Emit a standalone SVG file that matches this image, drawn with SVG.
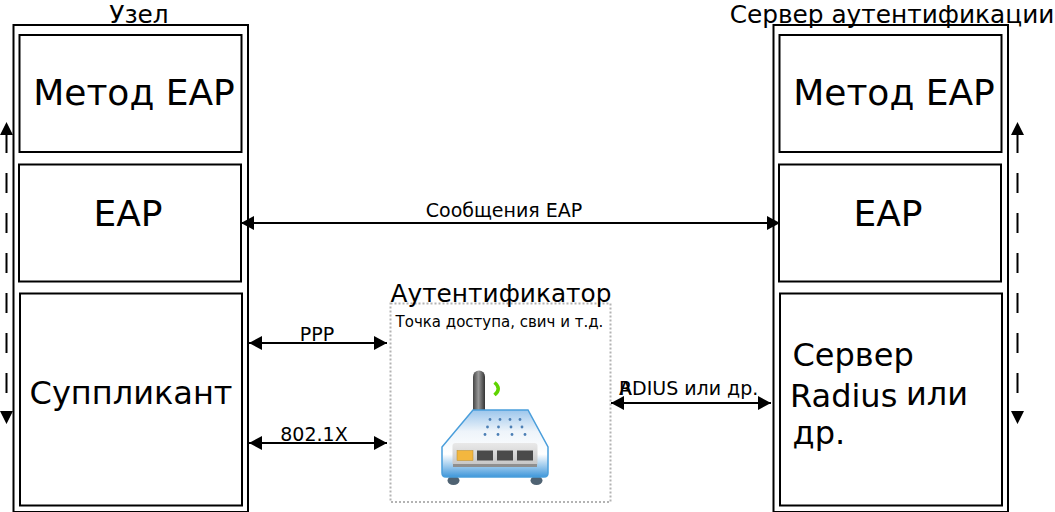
<svg xmlns="http://www.w3.org/2000/svg" width="1055" height="512" viewBox="0 0 1055 512">
<style>
text{font-family:"DejaVu Sans",sans-serif;fill:#000}
.box{fill:#fff;stroke:#000;stroke-width:2}
.big{font-size:36px}
.mid{font-size:32px}
.lab{font-size:24.800px}
.sm{font-size:19px}
.c{fill:none;stroke:#000;stroke-width:2}
.d{fill:none;stroke:#000;stroke-width:2;stroke-dasharray:20 20}
</style>
<defs>
<marker id="a" markerUnits="userSpaceOnUse" markerWidth="14" markerHeight="14" refX="13" refY="7" orient="auto-start-reverse"><path d="M0 0L13 7L0 14Z" fill="#000"/></marker>
<linearGradient id="body" x1="0" y1="0" x2="0" y2="1"><stop offset="0" stop-color="#9cc6ec"/><stop offset=".32" stop-color="#eef4fa"/><stop offset=".66" stop-color="#fff"/><stop offset=".86" stop-color="#8fc2ea"/><stop offset="1" stop-color="#3f97da"/></linearGradient>
<linearGradient id="ant" x1="0" y1="0" x2="1" y2="0"><stop offset="0" stop-color="#444"/><stop offset=".45" stop-color="#999"/><stop offset="1" stop-color="#333"/></linearGradient>
<linearGradient id="panel" x1="0" y1="0" x2="0" y2="1"><stop offset="0" stop-color="#e9e9e9"/><stop offset="1" stop-color="#c4c4c4"/></linearGradient>
</defs>
<g id="node-uzel">
<rect class="box" x="13.500" y="25" width="234.500" height="487"/>
<text class="lab" x="139" y="23" text-anchor="middle">Узел</text>
</g>
<g id="node-metod-1"><rect class="box" x="19.500" y="35" width="222" height="117"/><text class="big" x="134" y="105" text-anchor="middle">Метод EAP</text></g>
<g id="node-eap-1"><rect class="box" x="19" y="164.500" width="222" height="117"/><text class="big" x="128" y="226" text-anchor="middle">EAP</text></g>
<g id="node-supplicant"><rect class="box" x="20" y="293.500" width="222" height="212"/><text class="mid" x="131" y="404" text-anchor="middle">Суппликант</text></g>
<g id="node-server">
<rect class="box" x="773.500" y="25" width="234.500" height="487"/>
<text class="lab" x="892" y="23" text-anchor="middle">Сервер аутентификации</text>
</g>
<g id="node-metod-2"><rect class="box" x="779.500" y="35" width="222" height="117"/><text class="big" x="894" y="105" text-anchor="middle">Метод EAP</text></g>
<g id="node-eap-2"><rect class="box" x="779" y="164.500" width="222" height="117"/><text class="big" x="888" y="226" text-anchor="middle">EAP</text></g>
<g id="node-radius"><rect class="box" x="780" y="293.500" width="222" height="212"/>
<text class="mid" x="792.500" y="365.500">Сервер</text>
<text class="mid" x="790" y="407">Radius<tspan x="906" y="405">или</tspan></text>
<text class="mid" x="792.500" y="444">др.</text></g>
<g id="node-authenticator">
<rect x="390.500" y="303.500" width="220" height="198.500" fill="#fff" stroke="#b3b3b3" stroke-width="2" stroke-dasharray="2 2"/>
<text class="lab" x="501" y="302" text-anchor="middle">Аутентификатор</text>
<text x="499.500" y="327" style="font-size:15px" text-anchor="middle">Точка доступа, свич и т.д.</text>
<g id="router-icon">
<ellipse cx="453.500" cy="480.500" rx="6" ry="4.500" fill="#4f6272"/>
<ellipse cx="536.500" cy="480.500" rx="6" ry="4.500" fill="#4f6272"/>
<rect x="473" y="370.500" width="12" height="46" rx="6" fill="url(#ant)"/>
<path d="M494.500 382.500Q502 388.500 494.500 395" fill="none" stroke="#5fd400" stroke-width="3.500"/>
<path d="M473 410H528L548 447V473Q548 477 544 477H446Q442 477 442 473V447Z" fill="url(#body)" stroke="#4a9edb" stroke-width="1.500"/>
<rect x="452.500" y="443" width="85" height="23" rx="3" fill="url(#panel)"/>
<rect x="453" y="464" width="84" height="3" fill="#8f8f8f"/>
<rect x="457" y="450.500" width="16" height="10" fill="#f3b73f" stroke="#b88a2a" stroke-width=".5"/>
<rect x="477" y="450.500" width="16" height="10" fill="#4a4a4a"/>
<rect x="497" y="450.500" width="16" height="10" fill="#4a4a4a"/>
<rect x="517" y="450.500" width="16" height="10" fill="#4a4a4a"/>
<g fill="#4c7fb5"><circle cx="490" cy="419.500" r="1.400"/><circle cx="500" cy="419.500" r="1.400"/><circle cx="510" cy="419.500" r="1.400"/><circle cx="520" cy="419.500" r="1.400"/><circle cx="487.500" cy="427" r="1.400"/><circle cx="498.500" cy="427" r="1.400"/><circle cx="511" cy="427" r="1.400"/><circle cx="522" cy="427" r="1.400"/><circle cx="485" cy="434.500" r="1.400"/><circle cx="498" cy="434.500" r="1.400"/><circle cx="512" cy="434.500" r="1.400"/><circle cx="525" cy="434.500" r="1.400"/></g>
</g>
</g>
<g id="connectors">
<path class="c" d="M241 223H780" marker-start="url(#a)" marker-end="url(#a)"/>
<path class="c" d="M249 343H387" marker-start="url(#a)" marker-end="url(#a)"/>
<path class="c" d="M249 443H387" marker-start="url(#a)" marker-end="url(#a)"/>
<path class="c" d="M611 403H771" marker-start="url(#a)" marker-end="url(#a)"/>
<path class="d" d="M6.500 133V393"/><path d="M6.500 122L13 135H0ZM6.500 424L0 411H13Z" fill="#000"/>
<path class="d" d="M1017.500 133V393"/><path d="M1017.500 122L1024 135H1011ZM1017.500 424L1011 411H1024Z" fill="#000"/>
<text class="sm" x="504" y="217" text-anchor="middle">Сообщения EAP</text>
<text class="sm" x="317" y="341" text-anchor="middle">PPP</text>
<text class="sm" x="314" y="441" text-anchor="middle">802.1X</text>
<text class="sm" x="619" y="395">R</text>
<text class="sm" x="619" y="395">ADIUS или др.</text>
</g>
</svg>
